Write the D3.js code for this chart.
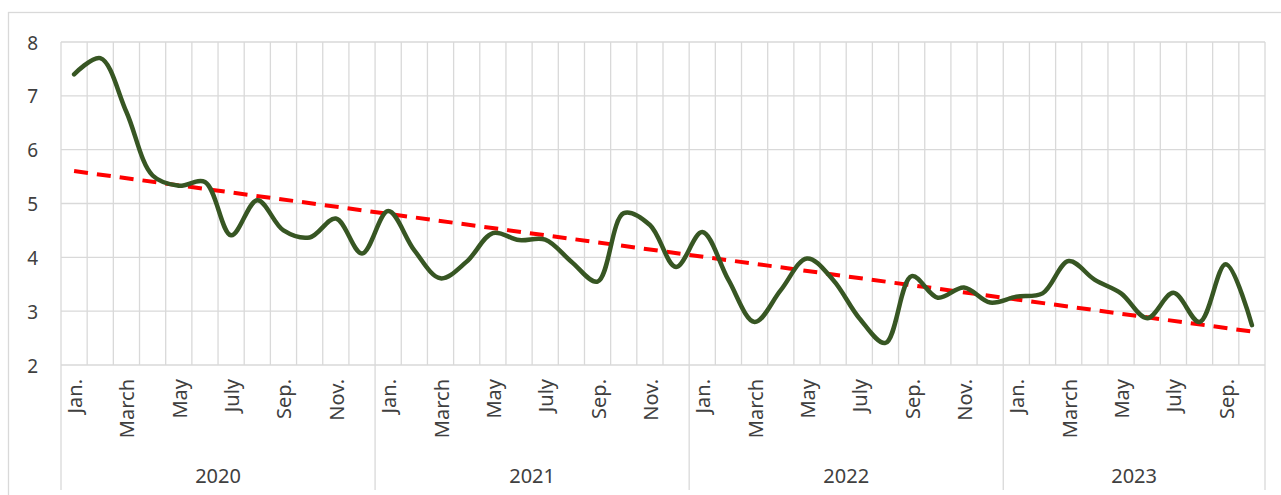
<!DOCTYPE html>
<html>
<head>
<meta charset="utf-8">
<script src="https://cdn.jsdelivr.net/npm/d3@7"></script>
<style>
  body { margin: 0; background: #fff; overflow: hidden; }
  text { font-family: "Noto Sans", "Open Sans", sans-serif; fill: #404040; }
</style>
</head>
<body>
<div id="chart"></div>
<script>
// monthly values Jan 2020 .. Oct 2023
var years = ["2020", "2021", "2022", "2023"];
var monthNames = ["Jan.", "Feb.", "March", "April", "May", "June", "July", "Aug.", "Sep.", "Oct.", "Nov.", "Dec."];
var values = [
  7.40, 7.70, 6.70, 5.52, 5.33, 5.40, 4.41, 5.06, 4.50, 4.37, 4.72, 4.07,
  4.86, 4.13, 3.61, 3.92, 4.45, 4.32, 4.33, 3.92, 3.55, 4.82, 4.60, 3.82,
  4.47, 3.58, 2.80, 3.39, 3.98, 3.58, 2.87, 2.41, 3.65, 3.25, 3.44, 3.16,
  3.27, 3.33, 3.93, 3.58, 3.33, 2.87, 3.34, 2.80, 3.87, 2.74
];
var yTicks = [2, 3, 4, 5, 6, 7, 8];

var width = 1281, height = 495;
var plotLeft = 61, plotRight = 1265, plotTop = 42, plotBottom = 365;

var svg = d3.select("#chart").append("svg")
    .attr("width", width)
    .attr("height", height);

// outer chart frame (right and bottom edges fall outside the picture)
svg.append("rect")
    .attr("x", 8.5).attr("y", 12.5)
    .attr("width", 1290).attr("height", 500)
    .attr("fill", "none")
    .attr("stroke", "#d9d9d9")
    .attr("stroke-width", 1.3);

var cats = values.map(function (d, i) { return i; });
var x = d3.scaleBand().domain(cats).range([plotLeft, plotRight]);
var y = d3.scaleLinear().domain([2, 8]).range([plotBottom, plotTop]);

// horizontal grid
svg.append("g").selectAll("line")
    .data(yTicks)
    .enter().append("line")
    .attr("x1", plotLeft).attr("x2", plotRight)
    .attr("y1", function (d) { return y(d); })
    .attr("y2", function (d) { return y(d); })
    .attr("stroke", "#d9d9d9").attr("stroke-width", 1.3);

// vertical grid at category boundaries, year separators run down the axis
svg.append("g").selectAll("line")
    .data(cats.concat([cats.length]))
    .enter().append("line")
    .attr("x1", function (d) { return plotLeft + d * x.step(); })
    .attr("x2", function (d) { return plotLeft + d * x.step(); })
    .attr("y1", plotTop)
    .attr("y2", function (d) { return (d % 12 === 0 || d === cats.length) ? 490 : plotBottom; })
    .attr("stroke", "#d9d9d9").attr("stroke-width", 1.3);

// y tick labels
svg.append("g").selectAll("text")
    .data(yTicks)
    .enter().append("text")
    .attr("x", 38)
    .attr("y", function (d) { return y(d) + 1; })
    .attr("dy", "0.35em")
    .attr("text-anchor", "end")
    .style("font-size", "19px")
    .text(function (d) { return d; });

// month labels (every other month)
svg.append("g").selectAll("text")
    .data(cats.filter(function (i) { return i % 2 === 0; }))
    .enter().append("text")
    .attr("transform", function (i) {
        return "translate(" + (x(i) + x.bandwidth() / 2 + 1) + ",379) rotate(-90)";
    })
    .attr("dy", "0.35em")
    .attr("text-anchor", "end")
    .style("font-size", "20px")
    .text(function (i) { return monthNames[i % 12]; });

// year labels
svg.append("g").selectAll("text")
    .data(years)
    .enter().append("text")
    .attr("x", function (d, k) {
        var a = plotLeft + k * 12 * x.step();
        var b = Math.min(plotRight, plotLeft + (k + 1) * 12 * x.step());
        return (a + b) / 2;
    })
    .attr("y", 483)
    .attr("text-anchor", "middle")
    .style("font-size", "20px")
    .text(function (d) { return d; });

// linear trend (least squares on the series)
var n = values.length;
var mx = d3.mean(cats), my = d3.mean(values);
var slope = d3.sum(cats, function (i) { return (i - mx) * (values[i] - my); }) /
            d3.sum(cats, function (i) { return (i - mx) * (i - mx); });
var icpt = my - slope * mx;

var line = d3.line()
    .x(function (d) { return x(d[0]) + x.bandwidth() / 2; })
    .y(function (d) { return y(d[1]); });

svg.append("path")
    .datum([[0, icpt], [n - 1, icpt + slope * (n - 1)]])
    .attr("d", line)
    .attr("fill", "none")
    .attr("stroke", "#ff0000")
    .attr("stroke-width", 4)
    .attr("stroke-dasharray", "14,9");

// series
svg.append("path")
    .datum(values.map(function (v, i) { return [i, v]; }))
    .attr("d", line.curve(d3.curveCatmullRom.alpha(0.5)))
    .attr("fill", "none")
    .attr("stroke", "#375623")
    .attr("stroke-width", 4.5)
    .attr("stroke-linejoin", "round")
    .attr("stroke-linecap", "round");
</script>
</body>
</html>
